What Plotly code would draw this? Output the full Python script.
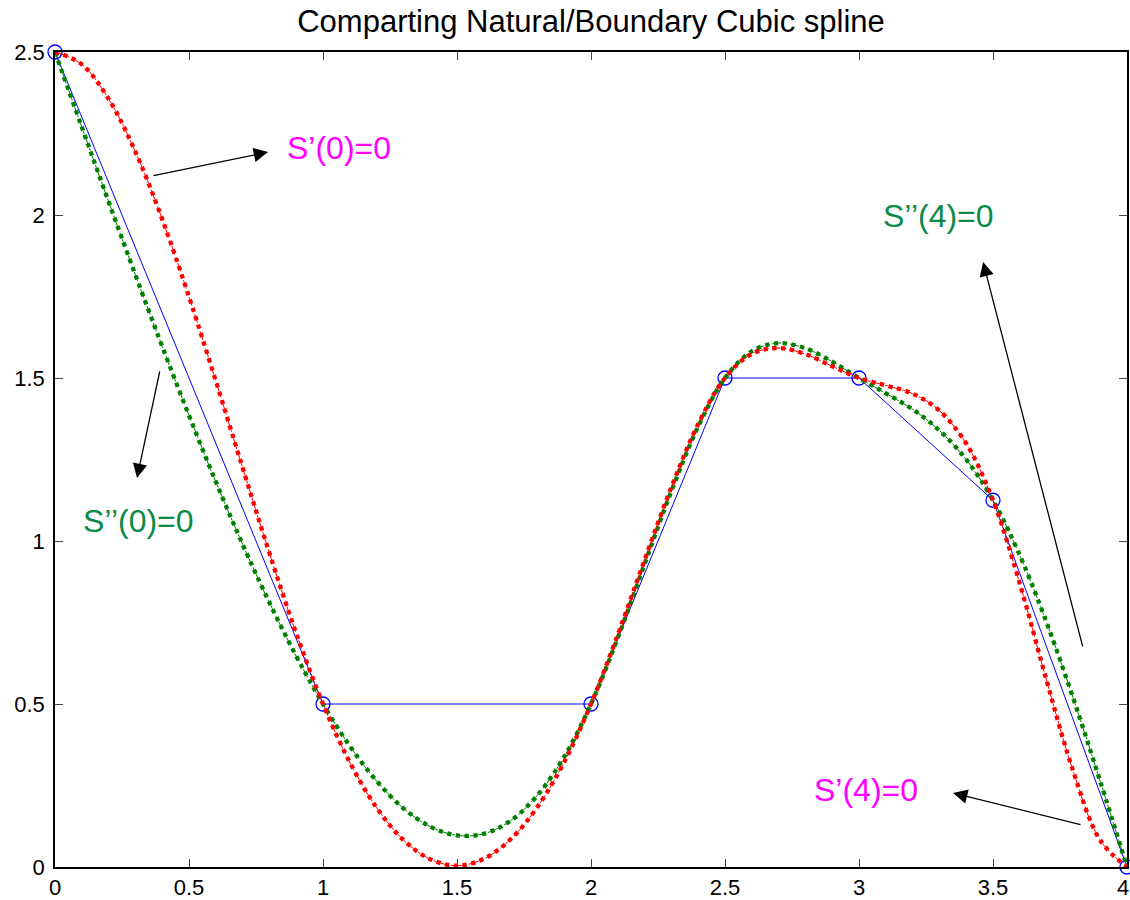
import plotly.graph_objects as go

# ---------------- data ----------------
x_knots = [0, 1, 2, 2.5, 3, 3.5, 4]
y_knots = [2.5, 0.5, 0.5, 1.5, 1.5, 1.125, 0]

x_curve = [0.0, 0.1, 0.2, 0.3, 0.4, 0.5, 0.6, 0.7, 0.8, 0.9,
           1.0, 1.1, 1.2, 1.3, 1.4, 1.5, 1.6, 1.7, 1.8, 1.9,
           2.0, 2.1, 2.2, 2.3, 2.4, 2.5, 2.6, 2.7, 2.8, 2.9,
           3.0, 3.1, 3.2, 3.3, 3.4, 3.5, 3.6, 3.7, 3.8, 3.9, 4.0]

# natural spline S''(0)=S''(4)=0 (green)
y_natural = [2.500, 2.270, 2.041, 1.816, 1.597, 1.385, 1.182, 0.990, 0.811, 0.647,
             0.500, 0.371, 0.264, 0.180, 0.124, 0.097, 0.102, 0.142, 0.220, 0.338,
             0.500, 0.703, 0.929, 1.153, 1.351, 1.500, 1.582, 1.607, 1.591, 1.550,
             1.500, 1.453, 1.404, 1.339, 1.250, 1.125, 0.956, 0.750, 0.516, 0.263, 0.000]

# clamped spline S'(0)=S'(4)=0 (red)
y_clamped = [2.500, 2.462, 2.356, 2.194, 1.987, 1.749, 1.491, 1.225, 0.963, 0.717,
             0.500, 0.321, 0.182, 0.083, 0.024, 0.004, 0.025, 0.085, 0.184, 0.322,
             0.500, 0.713, 0.942, 1.165, 1.359, 1.500, 1.574, 1.592, 1.573, 1.536,
             1.500, 1.477, 1.452, 1.400, 1.299, 1.125, 0.869, 0.572, 0.292, 0.082, 0.000]

x_ticks = [0, 0.5, 1, 1.5, 2, 2.5, 3, 3.5, 4]
x_ticklabels = ["0", "0.5", "1", "1.5", "2", "2.5", "3", "3.5", "4"]
y_ticks = [0, 0.5, 1, 1.5, 2, 2.5]
y_ticklabels = ["0", "0.5", "1", "1.5", "2", "2.5"]

title_text = "Comparting Natural/Boundary Cubic spline"

# annotations: (text, x, y, color)
labels = [
    ("S\u2019(0)=0", 1.06, 2.205, "#ff00ff"),
    ("S\u2019\u2019(0)=0", 0.31, 1.06, "#0b8a48"),
    ("S\u2019\u2019(4)=0", 3.295, 1.997, "#0b8a48"),
    ("S\u2019(4)=0", 3.025, 0.236, "#ff00ff"),
]
# arrows: (head_x, head_y, tail_x, tail_y)
arrows = [
    (0.795, 2.193, 0.362, 2.120),
    (0.306, 1.193, 0.392, 1.525),
    (3.463, 1.856, 3.836, 0.672),
    (3.351, 0.227, 3.832, 0.129),
]

FONT = "Liberation Sans, Arial, Helvetica, sans-serif"
RED = "#ff0000"
GREEN = "#008000"
BLUE = "#0000ff"
TICK_SIZE = 22

fig = go.Figure()

# piecewise linear through knots
fig.add_trace(go.Scatter(
    x=x_knots, y=y_knots, mode="lines+markers",
    line=dict(color=BLUE, width=1),
    marker=dict(symbol="circle-open", size=14, color=BLUE, line=dict(width=1.3, color=BLUE)),
    cliponaxis=False, showlegend=False, hoverinfo="skip"))

for yvals, col in ((y_natural, GREEN), (y_clamped, RED)):
    fig.add_trace(go.Scatter(
        x=x_curve, y=yvals, mode="lines",
        line=dict(color=col, width=1, dash="dashdot", shape="spline", smoothing=1),
        showlegend=False, hoverinfo="skip", cliponaxis=False))
    fig.add_trace(go.Scatter(
        x=x_curve, y=yvals, mode="lines",
        line=dict(color=col, width=4.3, dash="4.3px,4.5px", shape="spline", smoothing=1),
        showlegend=False, hoverinfo="skip", cliponaxis=False))

annotations = []
for txt, x, y, col in labels:
    annotations.append(dict(x=x, y=y, xref="x", yref="y", text=txt, showarrow=False,
                            font=dict(family=FONT, size=32, color=col),
                            xanchor="center", yanchor="middle"))
for hx, hy, tx, ty in arrows:
    annotations.append(dict(x=hx, y=hy, xref="x", yref="y", ax=tx, ay=ty,
                            axref="x", ayref="y", text="", showarrow=True,
                            arrowhead=2, arrowsize=2.2, arrowwidth=1.3,
                            arrowcolor="black", standoff=0, startstandoff=0))

# last x tick label sits at the right page edge: place it inside the page
axis_labels_x = x_ticklabels[:-1] + [""]
annotations.append(dict(x=x_ticks[-1], xref="x", y=0, yref="paper", yshift=-20,
                        text=x_ticklabels[-1], showarrow=False, xanchor="right",
                        yanchor="middle", xshift=3, borderpad=0,
                        font=dict(family=FONT, size=TICK_SIZE, color="black")))

axis_common = dict(showgrid=False, zeroline=False, showline=True, linecolor="black",
                   linewidth=1.5, mirror="ticks", ticks="inside", ticklen=8,
                   tickwidth=1, tickcolor="#444444", automargin=False,
                   ticklabeloverflow="allow",
                   tickfont=dict(family=FONT, size=TICK_SIZE, color="black"))

fig.update_layout(
    width=1130, height=900,
    margin=dict(l=55, r=3, t=52, b=33),
    paper_bgcolor="white", plot_bgcolor="white",
    title=dict(text=title_text, x=0.5, xref="paper", xanchor="center",
               y=1 - 21 / 900, yref="container", yanchor="middle",
               font=dict(family=FONT, size=31, color="black")),
    xaxis=dict(range=[0, 4], tickvals=x_ticks, ticktext=axis_labels_x,
               ticklabelstandoff=0, **axis_common),
    yaxis=dict(range=[0, 2.5], tickvals=y_ticks, ticktext=y_ticklabels,
               ticklabelstandoff=4, **axis_common),
    annotations=annotations,
)

fig.write_html(
    "out.html",
    config={"displayModeBar": False},
    post_script="document.body.style.margin='0';document.body.style.overflow='hidden';",
)
